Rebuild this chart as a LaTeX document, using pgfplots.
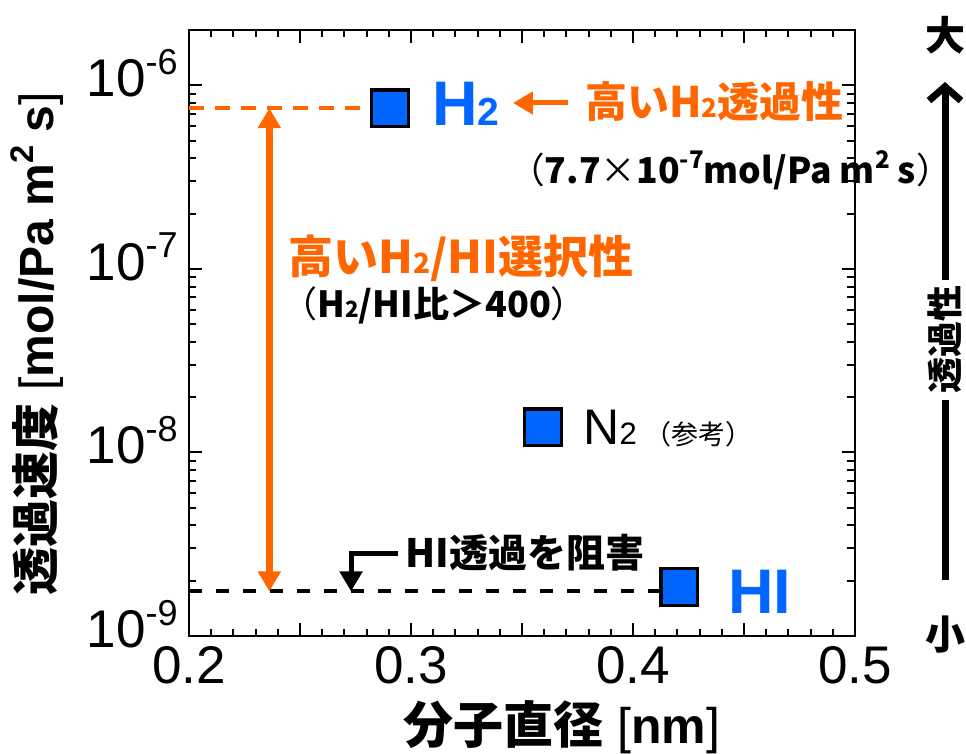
\documentclass[border=0pt]{standalone}
\usepackage{fontspec}
\setmainfont{Liberation Sans}
\newfontfamily\jp{Noto Sans CJK JP}
\usepackage{graphicx}
\usepackage{pgfplots}
\pgfplotsset{compat=1.18}
\usetikzlibrary{arrows.meta}
\definecolor{myblue}{RGB}{0,102,255}
\definecolor{myorange}{RGB}{255,102,0}
\newcommand{\fs}[1]{\fontsize{#1}{#1}\selectfont}
\newcommand{\sups}[1]{\raisebox{0.42em}{\scalebox{0.68}{#1}}}
\newcommand{\subs}[1]{\scalebox{0.62}{#1}}
\begin{document}
\begin{tikzpicture}
\useasboundingbox (-94.5pt,-59pt) rectangle (388.5pt,318pt);
\begin{axis}[
  at={(0,0)}, anchor=south west,
  scale only axis, width=333pt, height=303pt,
  xmin=0.2, xmax=0.5,
  ymode=log, ymin=1e-9, ymax=2e-6,
  xtick={0.2,0.25,0.3,0.35,0.4,0.45,0.5},
  xticklabels={0.2,,0.3,,0.4,,0.5},
  minor x tick num=4,
  ytick={1e-9,1e-8,1e-7,1e-6},
  yticklabels={10\sups{-9},10\sups{-8},10\sups{-7},10\sups{-6}},
  tick align=inside,
  major tick length=6.5pt, minor tick length=3.75pt,
  every tick/.style={black, line width=1pt},
  axis line style={line width=1.2pt},
  tick label style={font=\fs{26.5}},
  yticklabel style={inner sep=0pt, xshift=-5.5pt, yshift=6pt},
  xticklabel style={yshift=-1.7pt},
  clip=false,
]
% dashed reference lines
\addplot[myorange, line width=2pt, dash pattern=on 7.5pt off 5.5pt] coordinates {(0.2,7.5e-7) (0.29,7.5e-7)};
\addplot[black, line width=2pt, dash pattern=on 6.5pt off 7pt] coordinates {(0.2,1.75e-9) (0.4208,1.75e-9)};
% selectivity arrow
\addplot[myorange, line width=3.5pt, {Triangle[width=11pt,length=10pt]}-{Triangle[width=11pt,length=10pt]}] coordinates {(0.2362,7.5e-7) (0.2362,1.75e-9)};
% HI blocking arrow
\addplot[black, line width=2.5pt, -{Triangle[width=11pt,length=10pt]}] coordinates {(0.2941,2.82e-9) (0.273,2.82e-9) (0.273,1.75e-9)};
% data
\addplot[only marks, mark=square*, mark size=9.2pt,
  mark options={fill=myblue, draw=black, line width=1.75pt, rounded corners=1pt}]
  coordinates {(0.2905,7.5e-7) (0.3595,1.37e-8) (0.4208,1.85e-9)};
\end{axis}
% axis labels
\node[font=\fs{25}] at (186.5pt,-45.5pt) {{\jp\bfseries 分子直径} [\textbf{nm}]};
\node[font=\fs{24}, rotate=90] at (-76pt,146pt) {{\jp\bfseries 透過速度} [\textbf{mol/Pa m\sups{2} s}]};
% annotations
\node[anchor=base west, inner sep=0pt, font=\fs{31.5}\bfseries, text=myblue] at (121.5pt,255pt) {H\subs{2}};
\node[anchor=base west, inner sep=0pt, font=\fs{31.5}\bfseries, text=myblue] at (269.5pt,11pt) {HI};
\draw[myorange, line width=2.5pt, -{Triangle[width=11pt,length=10pt]}] (189.5pt,266.5pt) -- (162pt,266.5pt);
\node[anchor=west, inner sep=0pt, font=\fs{21}\jp\bfseries, text=myorange] at (198pt,267pt) {高いH\subs{2}透過性};
\node[anchor=west, inner sep=0pt, font=\fs{17.8}\jp\bfseries] at (160pt,233pt) {{\mdseries （}7.7{\mdseries ×}10\sups{-7}mol/Pa m\sups{2} s{\mdseries ）}};
\node[anchor=west, inner sep=0pt, font=\fs{22.5}\jp\bfseries, text=myorange] at (49.5pt,189pt) {高いH\subs{2}/HI選択性};
\node[anchor=west, inner sep=0pt, font=\fs{18}\jp\bfseries] at (46pt,165.5pt) {{\mdseries （}H\subs{2}/HI比＞400{\mdseries ）}};
\node[anchor=base west, inner sep=0pt, font=\fs{25}] at (197pt,95.5pt) {N\subs{2}\hspace{4pt}{\jp\fs{13.5}（参考）}};
\node[anchor=west, inner sep=0pt, font=\fs{19.5}\jp\bfseries] at (108pt,41.5pt) {HI透過を阻害};
% right-hand permeability scale
\node[font=\fs{20}\jp\bfseries] at (378pt,300.5pt) {大};
\node[font=\fs{20}\jp\bfseries] at (378pt,0.5pt) {小};
\node[font=\fs{18}\jp\bfseries, rotate=90] at (378pt,148pt) {透過性};
\draw[black, line width=3.5pt, -{Straight Barb[length=7pt,width=16pt]}] (378pt,178pt) -- (378pt,277pt);
\draw[black, line width=3.5pt] (378pt,118pt) -- (378pt,28pt);
\end{tikzpicture}
\end{document}
